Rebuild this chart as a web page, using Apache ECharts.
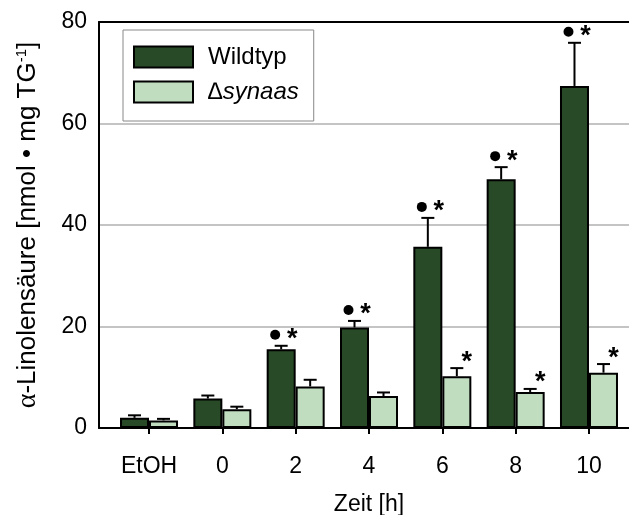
<!DOCTYPE html>
<html>
<head>
<meta charset="utf-8">
<script src="https://cdn.jsdelivr.net/npm/echarts@6/dist/echarts.min.js"></script>
<style>
  html, body { margin: 0; padding: 0; background: #fff; }
  #chart { width: 629px; height: 515px; }
</style>
</head>
<body>
<div id="chart"></div>
<script>
// Time points (x categories)
const categories = ['EtOH', '0', '2', '4', '6', '8', '10'];

// Mean alpha-linolenic acid content [nmol / mg TG]
const wildtypValues = [2.0, 5.8, 15.5, 19.8, 35.7, 49.0, 67.4];
const wildtypErrors = [0.5, 0.6, 0.7, 1.3, 5.7, 2.4, 8.5];
const synaasValues = [1.5, 3.7, 8.2, 6.3, 10.2, 7.1, 10.9];
const synaasErrors = [0.3, 0.5, 1.3, 0.7, 1.6, 0.6, 1.7];

// Significance markers (1 = shown)
const wildtypDot = [0, 0, 1, 1, 1, 1, 1];
const wildtypStar = [0, 0, 1, 1, 1, 1, 1];
const synaasStar = [0, 0, 0, 0, 1, 1, 1];

const yTicks = [0, 20, 40, 60, 80];

const FONT = 'Liberation Sans, Arial, Helvetica, sans-serif';
const DARK = '#284a27';
const LIGHT = '#c0ddbf';
const BAR_W = 29;
const xIdx = categories.map((_, i) => i);

function pairs(vals) { return vals.map((v, i) => [i, v]); }

// Error bar (upper whisker only) + significance markers drawn above it
function makeErrorRender(values, errors, dots, stars, dx) {
  return function (params, api) {
    const i = api.value(0);
    const top = api.coord([i, values[i]]);
    const cap = api.coord([i, values[i] + errors[i]]);
    const cx = top[0] + dx;
    const lineStyle = { stroke: '#000', lineWidth: 2 };
    const children = [
      { type: 'line', shape: { x1: cx, y1: top[1], x2: cx, y2: cap[1] }, style: lineStyle },
      { type: 'line', shape: { x1: cx - 6.5, y1: cap[1], x2: cx + 6.5, y2: cap[1] }, style: lineStyle }
    ];
    if (dots[i]) {
      children.push({ type: 'circle', shape: { cx: cx - 6, cy: cap[1] - 11, r: 5 }, style: { fill: '#000' } });
    }
    if (stars[i]) {
      children.push({
        type: 'text',
        style: {
          text: '*', x: cx + (dots[i] ? 11 : 10), y: cap[1] - 6,
          fill: '#000', font: 'bold 27px ' + FONT, align: 'center', verticalAlign: 'middle'
        }
      });
    }
    return { type: 'group', children: children };
  };
}

const chart = echarts.init(document.getElementById('chart'), null, { renderer: 'canvas' });

const xMin = -0.682, xMax = 6.682;

chart.setOption({
  animation: false,
  backgroundColor: '#fff',
  textStyle: { fontFamily: FONT },
  grid: { left: 99, right: -10, top: 22, bottom: 87, containLabel: false, outerBoundsMode: 'none' },
  legend: {
    orient: 'vertical',
    left: 123, top: 30,
    padding: [15, 15, 17, 10],
    backgroundColor: '#fff',
    borderColor: '#888',
    borderWidth: 1,
    itemWidth: 59, itemHeight: 21, itemGap: 11,
    icon: 'rect',
    data: ['Wildtyp', '\u2206synaas'],
    formatter: function (name) { return name === 'Wildtyp' ? name : '{i|' + name + '}'; },
    textStyle: {
      fontFamily: FONT, fontSize: 24, color: '#000', lineHeight: 21, padding: [0, 0, 0, 10],
      rich: { i: { fontStyle: 'italic', fontFamily: FONT, fontSize: 24, color: '#000' } }
    }
  },
  xAxis: [{
    type: 'value', min: xMin, max: xMax,
    name: 'Zeit [h]', nameLocation: 'middle', nameGap: 65,
    nameTextStyle: { fontFamily: FONT, fontSize: 23, color: '#000' },
    axisLine: { show: true, onZero: false, lineStyle: { color: '#000', width: 2 } },
    axisTick: { show: true, length: 6, lineStyle: { color: '#000', width: 2 }, customValues: xIdx },
    axisLabel: {
      customValues: xIdx, margin: 27, fontFamily: FONT, fontSize: 23, color: '#000',
      formatter: function (v) { return categories[Math.round(v)]; }
    },
    splitLine: { show: false }
  }, {
    type: 'value', min: xMin, max: xMax, position: 'top',
    axisLine: { show: true, onZero: false, lineStyle: { color: '#000', width: 2 } },
    axisTick: { show: false }, axisLabel: { show: false }, splitLine: { show: false }
  }],
  yAxis: {
    type: 'value', min: yTicks[0], max: yTicks[yTicks.length - 1], interval: 20,
    name: '{a|\u03b1}-Linolens\u00e4ure [nmol \u2022 mg TG{s|-1}]',
    nameLocation: 'middle', nameGap: 57,
    nameTextStyle: {
      fontFamily: FONT, fontSize: 26, color: '#000',
      rich: {
        a: { fontFamily: 'Liberation Serif, serif', fontSize: 28, color: '#000' },
        s: { fontFamily: FONT, fontSize: 15, color: '#000', verticalAlign: 'top', padding: [0, 0, 11, 0] }
      }
    },
    axisLine: { show: true, onZero: false, lineStyle: { color: '#000', width: 2 } },
    axisTick: { show: false },
    axisLabel: { margin: 12, fontFamily: FONT, fontSize: 23, color: '#000' },
    splitLine: { show: true, lineStyle: { color: '#c4c4c4', width: 2 } }
  },
  series: [
    {
      name: 'Wildtyp', type: 'bar', data: pairs(wildtypValues),
      barWidth: BAR_W, barGap: '0%',
      itemStyle: { color: DARK, borderColor: '#000', borderWidth: 2 }
    },
    {
      name: '\u2206synaas', type: 'bar', data: pairs(synaasValues),
      barWidth: BAR_W, barGap: '0%',
      itemStyle: { color: LIGHT, borderColor: '#000', borderWidth: 2 }
    },
    {
      type: 'custom', data: pairs(wildtypValues), z: 5,
      renderItem: makeErrorRender(wildtypValues, wildtypErrors, wildtypDot, wildtypStar, -BAR_W / 2)
    },
    {
      type: 'custom', data: pairs(synaasValues), z: 5,
      renderItem: makeErrorRender(synaasValues, synaasErrors, [0, 0, 0, 0, 0, 0, 0], synaasStar, BAR_W / 2)
    }
  ]
});
</script>
</body>
</html>
